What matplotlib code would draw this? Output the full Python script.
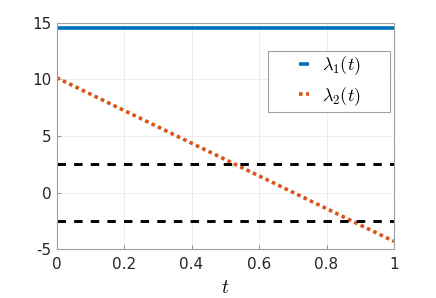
import numpy as np
import matplotlib.pyplot as plt
from matplotlib.patches import Rectangle

plt.rcParams['mathtext.fontset'] = 'cm'
plt.rcParams['font.family'] = ['DejaVu Sans']

t = [0, 1]
lam1 = [14.55, 14.55]
lam2 = [10.15, -4.3]
bounds = [2.5, -2.5]

xticks = [0, 0.2, 0.4, 0.6, 0.8, 1]
xticklabels = ['0', '0.2', '0.4', '0.6', '0.8', '1']
yticks = [-5, 0, 5, 10, 15]
yticklabels = ['-5', '0', '5', '10', '15']

fig = plt.figure(figsize=(4.36, 2.98), dpi=100)
ax = fig.add_axes([56.5 / 436, 1 - 249.3 / 298, (394 - 56.5) / 436, (249.3 - 22.7) / 298])

l1, = ax.plot(t, lam1, color='#0072BD', lw=2.6, solid_capstyle='butt')
l2, = ax.plot(t, lam2, color='#D95319', lw=2.6, linestyle=(0, (1, 0.95)))
for b in bounds:
    ax.plot(t, [b, b], color='black', lw=2.1, linestyle=(0, (2.9, 2.8)))

ax.set_xlim(0, 1)
ax.set_ylim(-5, 15)
ax.set_xticks(xticks)
ax.set_xticklabels(xticklabels)
ax.set_yticks(yticks)
ax.set_yticklabels(yticklabels)
ax.tick_params(direction='in', length=3, labelsize=11, labelcolor='#262626',
               color='#808080', width=0.6)
ax.tick_params(axis='x', pad=5.5)
for s in ax.spines.values():
    s.set_color('#a0a0a0')
    s.set_linewidth(0.8)
ax.grid(True, color='#ebebeb', lw=0.6)
ax.set_axisbelow(True)
ax.set_xlabel('$t$', fontsize=14, labelpad=4.5)

# legend box drawn by hand (MATLAB style padding)
ax.add_patch(Rectangle((0.6267, 0.606), 0.988 - 0.6267, 0.875 - 0.606, transform=ax.transAxes,
                       facecolor='white', edgecolor='#a0a0a0', lw=0.8, zorder=5))
leg = ax.legend(handles=[l1, l2], labels=[r'$\lambda_1(t)$', r'$\lambda_2(t)$'],
                loc='center left', bbox_to_anchor=(0.7185, 0.7434), fontsize=13,
                handlelength=0.55, handletextpad=0.75, borderpad=0, borderaxespad=0,
                frameon=False, labelspacing=0.45)
leg.set_zorder(6)

fig.savefig('out.png', dpi=100)
